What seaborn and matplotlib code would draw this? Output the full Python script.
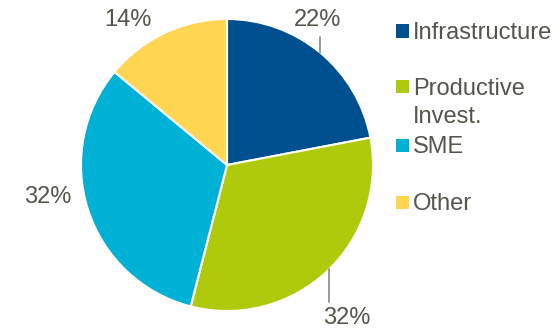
import numpy as np
import matplotlib
matplotlib.use("Agg")
import matplotlib.pyplot as plt
from matplotlib.patches import Rectangle
import seaborn as sns

categories = ["Infrastructure", "Productive Invest.", "SME", "Other"]
legend_labels = ["Infrastructure", "Productive\nInvest.", "SME", "Other"]
shares = [22, 32, 32, 14]
colors = ["#00508F", "#AFCA0B", "#00B1D6", "#FFD552"]
text_color = "#55554B"

sns.set_theme(style="white")
plt.rcParams["font.family"] = ["Liberation Sans", "DejaVu Sans"]

W, H = 559, 332
fig = plt.figure(figsize=(W / 100, H / 100), dpi=100)

# pie axes: centre at (227,165) px, radius 146 px
cx, cy, rpx = 227, 165, 146
half = 166
ax = fig.add_axes([(cx - half) / W, (H - cy - half) / H, 2 * half / W, 2 * half / H])
lim = half / rpx
ax.set_aspect("equal")
ax.axis("off")

wedges, _ = ax.pie(shares, colors=colors, startangle=90, counterclock=False,
                   radius=1.0, wedgeprops=dict(edgecolor="white", linewidth=1.5))
ax.set_xlim(-lim, lim)
ax.set_ylim(-lim, lim)

# percentage labels: (text position, leader line end y or None)
label_pos = {
    "Infrastructure": ((0.62, 0.99), 0.88),
    "Productive Invest.": ((0.82, -1.05), -0.94),
    "SME": ((-1.23, -0.22), None),
    "Other": ((-0.68, 0.99), None),
}
for w, cat, val in zip(wedges, categories, shares):
    (tx, ty), lend = label_pos[cat]
    ax.text(tx, ty, f"{val}%", ha="center", va="center", fontsize=17,
            color=text_color)
    if lend is not None:
        mid = np.deg2rad((w.theta1 + w.theta2) / 2)
        ex, ey = np.cos(mid), np.sin(mid)
        lx = ex if cat == "Infrastructure" else 0.70
        ly = np.sign(ey) * np.sqrt(max(0.0, 1 - lx ** 2))
        ax.plot([lx, lx], [ly, lend], color="#8A8A80", lw=1.2, zorder=3)

# legend on the right
legend_y = [31, 87, 145, 202]
for lab, col, y in zip(legend_labels, colors, legend_y):
    sq = 13
    fig.patches.append(Rectangle((396 / W, (H - y - sq / 2) / H), sq / W, sq / H,
                                 transform=fig.transFigure, facecolor=col,
                                 edgecolor="none"))
    first, *rest = lab.split("\n")
    fig.text(413 / W, (H - y - 8) / H, first, ha="left", va="baseline",
             fontsize=17, color=text_color)
    for i, line in enumerate(rest, start=1):
        fig.text(413 / W, (H - y - 8 - 28 * i) / H, line, ha="left",
                 va="baseline", fontsize=17, color=text_color)

fig.savefig("out.png", dpi=100)
